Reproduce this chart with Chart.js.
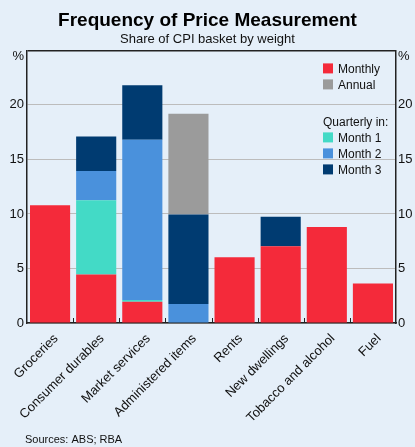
<!DOCTYPE html>
<html>
<head>
<meta charset="utf-8">
<script src="https://cdn.jsdelivr.net/npm/chart.js@4/dist/chart.umd.min.js"></script>
<style>
  body { margin: 0; background: #e5eff9; }
  #wrap { width: 415px; height: 447px; }
</style>
</head>
<body>
<div id="wrap"><canvas id="chart" width="415" height="447"></canvas></div>
<script>
const categories = ['Groceries', 'Consumer durables', 'Market services', 'Administered items',
  'Rents', 'New dwellings', 'Tobacco and alcohol', 'Fuel'];
const monthly = [10.8, 4.45, 1.95, null, 6.03, 7.04, 8.8, 3.63];
const month1 = [null, 6.8, 0.15, null, null, null, null, null];
const month2 = [null, 2.7, 14.7, 1.75, null, null, null, null];
const month3 = [null, 3.15, 5.0, 8.2, null, 2.7, null, null];
const annual = [null, null, null, 9.25, null, null, null, null];
const yTicks = [0, 5, 10, 15, 20, 25];

const FONT = "'Liberation Sans', Arial, sans-serif";

const colours = {
  monthly: '#f42a3a',
  annual: '#9b9b9b',
  month1: '#43dac6',
  month2: '#4a91dc',
  month3: '#003b71'
};

// legend drawn inside the plot, top right, with a "Quarterly in:" heading
const insideLegend = {
  id: 'insideLegend',
  afterDraw(chart) {
    const ctx = chart.ctx;
    const area = chart.chartArea;
    const x = area.right - 73;
    const rows = [
      { label: 'Monthly', color: colours.monthly, y: area.top + 18 },
      { label: 'Annual', color: colours.annual, y: area.top + 34 },
      { label: 'Quarterly in:', y: area.top + 71 },
      { label: 'Month 1', color: colours.month1, y: area.top + 87 },
      { label: 'Month 2', color: colours.month2, y: area.top + 103 },
      { label: 'Month 3', color: colours.month3, y: area.top + 119 }
    ];
    ctx.save();
    ctx.font = '12px ' + FONT;
    ctx.textBaseline = 'middle';
    ctx.fillStyle = '#111';
    rows.forEach(r => {
      if (r.color) {
        ctx.fillStyle = r.color;
        ctx.fillRect(x, r.y - 5, 10, 10);
        ctx.fillStyle = '#111';
        ctx.fillText(r.label, x + 15, r.y + 1);
      } else {
        ctx.fillText(r.label, x, r.y + 1);
      }
    });
    ctx.restore();
  }
};

// small category ticks on the x axis, the % unit labels and the sources note
const extras = {
  id: 'extras',
  afterDraw(chart) {
    const ctx = chart.ctx;
    const area = chart.chartArea;
    const xs = chart.scales.x;
    ctx.save();
    ctx.strokeStyle = '#222';
    ctx.lineWidth = 1;
    for (let i = 1; i < categories.length; i++) {
      const bx = Math.round((xs.getPixelForValue(i - 1) + xs.getPixelForValue(i)) / 2) + 0.5;
      ctx.beginPath();
      ctx.moveTo(bx, area.bottom);
      ctx.lineTo(bx, area.bottom - 5);
      ctx.stroke();
    }
    ctx.fillStyle = '#111';
    ctx.font = '13px ' + FONT;
    ctx.textBaseline = 'middle';
    ctx.textAlign = 'right';
    ctx.fillText('%', area.left - 3, area.top + 6);
    ctx.textAlign = 'left';
    ctx.fillText('%', area.right + 2, area.top + 6);
    ctx.font = '11px ' + FONT;
    ctx.fillText('Sources: ABS; RBA', 25, 440);
    ctx.restore();
  }
};

const bar = { barPercentage: 0.87, categoryPercentage: 1, borderWidth: 0 };

new Chart(document.getElementById('chart'), {
  type: 'bar',
  data: {
    labels: categories,
    datasets: [
      Object.assign({ label: 'Monthly', data: monthly, backgroundColor: colours.monthly }, bar),
      Object.assign({ label: 'Month 1', data: month1, backgroundColor: colours.month1 }, bar),
      Object.assign({ label: 'Month 2', data: month2, backgroundColor: colours.month2 }, bar),
      Object.assign({ label: 'Month 3', data: month3, backgroundColor: colours.month3 }, bar),
      Object.assign({ label: 'Annual', data: annual, backgroundColor: colours.annual }, bar)
    ]
  },
  options: {
    responsive: false,
    animation: false,
    layout: { padding: { bottom: 22 } },
    plugins: {
      legend: { display: false },
      tooltip: { enabled: false },
      title: {
        display: true,
        text: 'Frequency of Price Measurement',
        color: '#000',
        font: { family: FONT, size: 19, weight: 'bold' },
        padding: { top: 9, bottom: 0 }
      },
      subtitle: {
        display: true,
        text: 'Share of CPI basket by weight',
        color: '#111',
        font: { family: FONT, size: 13 },
        padding: { top: 0, bottom: 3 }
      }
    },
    scales: {
      x: {
        stacked: true,
        grid: { display: false },
        border: { color: '#222', width: 1.5 },
        ticks: {
          color: '#111',
          font: { family: FONT, size: 13 },
          maxRotation: 45,
          minRotation: 45,
          autoSkip: false,
          padding: 0,
          labelOffset: 6
        },
        afterFit(scale) { scale.height = 102; }
      },
      y: {
        stacked: true,
        min: 0,
        max: 25,
        afterBuildTicks(scale) { scale.ticks = yTicks.map(v => ({ value: v })); },
        grid: {
          color: ctx => (ctx.tick.value === 25 ? '#222' : '#bcbcbc'),
          lineWidth: ctx => (ctx.tick.value === 25 ? 1.5 : 1),
          drawTicks: false
        },
        border: { color: '#222', width: 1.5 },
        ticks: {
          color: '#111',
          font: { family: FONT, size: 13 },
          padding: 3,
          callback: v => (v === 25 ? '' : v)
        },
        afterFit(scale) { scale.width = 27; }
      },
      y2: {
        position: 'right',
        min: 0,
        max: 25,
        afterBuildTicks(scale) { scale.ticks = yTicks.map(v => ({ value: v })); },
        grid: { display: false, drawTicks: false },
        border: { color: '#222', width: 1.5 },
        ticks: {
          color: '#111',
          font: { family: FONT, size: 13 },
          padding: 2,
          callback: v => (v === 25 ? '' : v)
        },
        afterFit(scale) { scale.width = 19; }
      }
    }
  },
  plugins: [insideLegend, extras]
});
</script>
</body>
</html>
